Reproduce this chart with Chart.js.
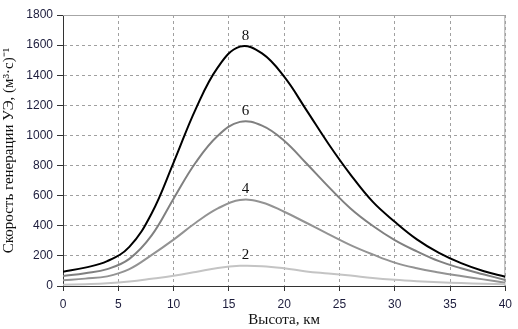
<!DOCTYPE html>
<html><head><meta charset="utf-8">
<script src="https://cdn.jsdelivr.net/npm/chart.js@4"></script>
<style>html,body{margin:0;padding:0;background:#fff}#wrap{width:518px;height:329px}</style>
</head><body><div id="wrap"><canvas id="c" width="518" height="329"></canvas></div>
<script>
const heights = [0, 2, 4, 6, 8, 10, 12, 14, 16, 18, 20, 22, 24, 26, 28, 30, 32, 34, 36, 38, 40];
const series8 = [95, 122, 165, 260, 480, 820, 1175, 1452, 1590, 1545, 1390, 1170, 945, 740, 560, 427, 310, 220, 152, 100, 62];
const series6 = [66, 85, 112, 180, 334, 580, 820, 998, 1090, 1065, 965, 815, 660, 515, 400, 305, 230, 165, 118, 78, 40];
const series4 = [38, 49, 64, 112, 205, 308, 420, 515, 571, 555, 493, 420, 345, 272, 210, 155, 118, 90, 66, 44, 22];
const series2 = [8, 12, 18, 30, 48, 68, 93, 120, 134, 132, 118, 97, 83, 69, 53, 41, 32, 25, 20, 15, 11];
const seriesNames = ['8', '6', '4', '2'];
const labelX = [16.5, 16.5, 16.5, 16.5];
const labelY = [1592, 1090, 572, 135];
const xTicks = [0, 5, 10, 15, 20, 25, 30, 35, 40];
const yTicks = [0, 200, 400, 600, 800, 1000, 1200, 1400, 1600, 1800];

const toPts = arr => arr.map((v, i) => ({x: heights[i], y: v}));
const colors = ['#000000', '#808080', '#939393', '#c4c4c4'];
const allSeries = [series8, series6, series4, series2];

const peakLabels = {
  id: 'peakLabels',
  afterDatasetsDraw(chart) {
    const {ctx, scales: {x, y}} = chart;
    ctx.save();
    ctx.font = '15px "Liberation Serif", "Times New Roman", serif';
    ctx.fillStyle = '#111';
    ctx.textAlign = 'center';
    ctx.textBaseline = 'bottom';
    seriesNames.forEach((n, i) => {
      ctx.fillText(n, x.getPixelForValue(labelX[i]), y.getPixelForValue(labelY[i]) - 3);
    });
    ctx.restore();
  }
};
const frame = {
  id: 'frame',
  beforeDatasetsDraw(chart) {
    const {ctx, chartArea: a} = chart;
    ctx.save();
    ctx.strokeStyle = '#a6a6a6';
    ctx.lineWidth = 1;
    ctx.beginPath();
    ctx.moveTo(a.left, a.top + 0.5);
    ctx.lineTo(a.right - 0.5, a.top + 0.5);
    ctx.lineTo(a.right - 0.5, a.bottom);
    ctx.stroke();
    ctx.restore();
  }
};

new Chart(document.getElementById('c'), {
  type: 'line',
  data: {
    datasets: allSeries.map((s, i) => ({
      label: seriesNames[i],
      data: toPts(s),
      borderColor: colors[i],
      borderWidth: 2,
      pointRadius: 0,
      fill: false,
      tension: 0.4
    })).reverse()
  },
  options: {
    responsive: false,
    animation: false,
    devicePixelRatio: 1,
    layout: {padding: {top: 15, right: 7, left: 0, bottom: 0}},
    plugins: {legend: {display: false}, tooltip: {enabled: false}},
    scales: {
      x: {
        type: 'linear', min: 0, max: 40,
        afterBuildTicks: s => { s.ticks = xTicks.map(v => ({value: v})); },
        afterFit: s => { s.height = 43; },
        grid: {color: '#a0a0a0', lineWidth: 1, tickLength: 5, tickColor: '#333', tickBorderDash: []},
        border: {color: '#333', width: 1, dash: [3, 3]},
        ticks: {font: {family: '"Liberation Sans", Arial, sans-serif', size: 12}, color: '#1c1c3c', padding: 6, maxRotation: 0, callback: v => String(v)},
        title: {display: true, text: 'Высота, км', font: {family: '"Liberation Serif", "Times New Roman", serif', size: 15}, color: '#111', padding: {top: 0, bottom: 0}}
      },
      y: {
        type: 'linear', min: 0, max: 1800,
        afterBuildTicks: s => { s.ticks = yTicks.map(v => ({value: v})); },
        afterFit: s => { s.width = 63; },
        grid: {color: '#a0a0a0', lineWidth: 1, tickLength: 6, tickColor: '#333', tickBorderDash: []},
        border: {color: '#333', width: 1, dash: [3, 3]},
        ticks: {font: {family: '"Liberation Sans", Arial, sans-serif', size: 12}, color: '#1c1c3c', padding: 4, callback: v => String(v)},
        title: {display: true, text: 'Скорость генерации УЭ, (м³·с)⁻¹', font: {family: '"Liberation Serif", "Times New Roman", serif', size: 15}, color: '#111', padding: {top: 0, bottom: 4}}
      }
    }
  },
  plugins: [frame, peakLabels]
});
</script></body></html>
